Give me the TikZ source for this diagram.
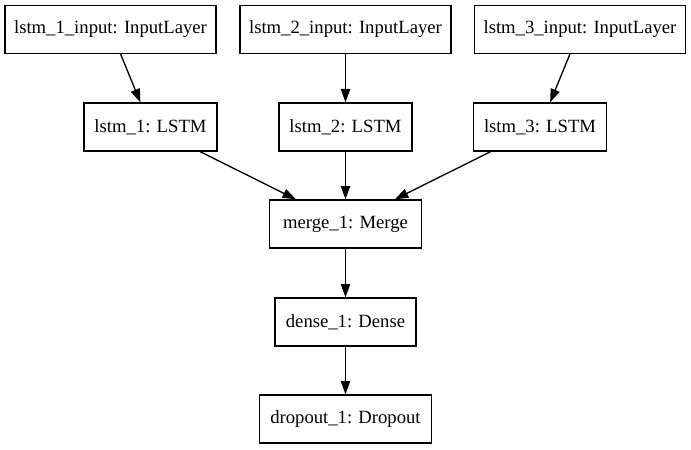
\documentclass[tikz,border=0pt]{standalone}
\usepackage{fontspec}
\setmainfont{Liberation Serif}
\usetikzlibrary{arrows.meta}
\begin{document}
\begin{tikzpicture}[x=0.75pt,y=-0.75pt,
  layer/.style={draw=black, line width=1pt, minimum height=36pt, inner sep=0pt,
    font=\fontsize{14}{16}\selectfont},
  conn/.style={line width=1pt, -{Triangle[length=10pt,width=7pt]}}]
\useasboundingbox[fill=white] (0,0) rectangle (691,449);
% input row
\node[layer, minimum width=158.25pt] (in1) at (110.5,29.5) {lstm\_1\_input: InputLayer};
\node[layer, minimum width=158.25pt] (in2) at (345.5,29.5) {lstm\_2\_input: InputLayer};
\node[layer, minimum width=158.25pt] (in3) at (580,29.5) {lstm\_3\_input: InputLayer};
% lstm row
\node[layer, minimum width=99.75pt] (l1) at (150.5,127) {lstm\_1: LSTM};
\node[layer, minimum width=99.75pt] (l2) at (345.5,127) {lstm\_2: LSTM};
\node[layer, minimum width=99.75pt] (l3) at (540,127) {lstm\_3: LSTM};
% column
\node[layer, minimum width=114pt] (m) at (345.5,224) {merge\_1: Merge};
\node[layer, minimum width=105.75pt] (d) at (345.5,322) {dense\_1: Dense};
\node[layer, minimum width=129pt] (o) at (345.5,419) {dropout\_1: Dropout};
% connectors
\draw[conn] (in1) -- (l1);
\draw[conn] (in2) -- (l2);
\draw[conn] (in3) -- (l3);
\draw[conn] (l1) -- (m);
\draw[conn] (l2) -- (m);
\draw[conn] (l3) -- (m);
\draw[conn] (m) -- (d);
\draw[conn] (d) -- (o);
\end{tikzpicture}
\end{document}
